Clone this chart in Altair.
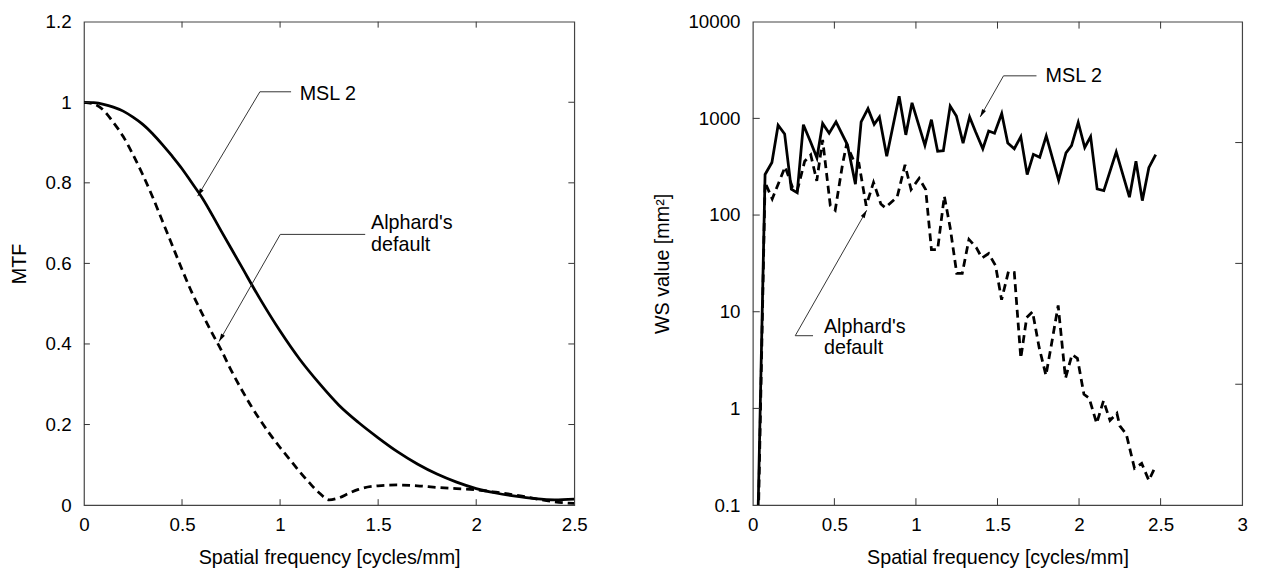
import math
import altair as alt
import pandas as pd

FONT = "Liberation Sans"
FS = 19
TFS = 20
ARROW = "M0,0 L-0.45,1.6 L0.45,1.6 Z"

# ---------------- Left panel: MTF ----------------
mtf_msl2_x = [0, 0.05, 0.1, 0.15, 0.2, 0.25, 0.3, 0.35, 0.4, 0.45, 0.5, 0.55, 0.6,
              0.7, 0.8, 0.9, 1.0, 1.1, 1.2, 1.3, 1.4, 1.5, 1.6, 1.7, 1.8, 1.9,
              2.0, 2.1, 2.2, 2.3, 2.4, 2.5]
mtf_msl2_y = [1.0, 0.999, 0.995, 0.988, 0.978, 0.963, 0.945, 0.922, 0.895, 0.866,
              0.835, 0.8, 0.765, 0.68, 0.595, 0.51, 0.432, 0.362, 0.302, 0.248,
              0.205, 0.167, 0.132, 0.102, 0.077, 0.057, 0.041, 0.030, 0.022,
              0.016, 0.013, 0.015]

mtf_alph_x = [0, 0.05, 0.1, 0.15, 0.2, 0.25, 0.3, 0.35, 0.4, 0.45, 0.5, 0.55, 0.6,
              0.65, 0.7, 0.75, 0.8, 0.85, 0.9, 0.95, 1.0, 1.05, 1.1, 1.15, 1.2,
              1.25, 1.3, 1.35, 1.4, 1.5, 1.6, 1.7, 1.8, 1.9, 2.0, 2.1, 2.2, 2.3,
              2.4, 2.5]
mtf_alph_y = [1.0, 0.996, 0.98, 0.95, 0.915, 0.87, 0.82, 0.765, 0.705, 0.645,
              0.585, 0.528, 0.478, 0.43, 0.385, 0.335, 0.29, 0.248, 0.21, 0.175,
              0.143, 0.113, 0.083, 0.055, 0.03, 0.013, 0.018, 0.029, 0.039, 0.048,
              0.05, 0.048, 0.044, 0.041, 0.038, 0.032, 0.025, 0.016, 0.008, 0.004]

left_x_ticks = [0, 0.5, 1, 1.5, 2, 2.5]
left_y_ticks = [0, 0.2, 0.4, 0.6, 0.8, 1, 1.2]

# annotations (data coordinates): corner, end of horizontal, arrow tip
left_ann_corner_x = [0.897, 1.001]
left_ann_corner_y = [1.026, 0.672]
left_ann_end_x = [1.056, 1.434]
left_ann_tip_x = [0.580, 0.689]
left_ann_tip_y = [0.767, 0.406]
left_ann_angle = [211, 210]
left_text = ["MSL 2", "Alphard's", "default"]
left_text_x = [1.10, 1.464, 1.464]
left_text_y = [1.021, 0.701, 0.645]

# ---------------- Right panel: WS value ----------------
ws_msl2_x = [0.0, 0.075, 0.117, 0.155, 0.195, 0.236, 0.272, 0.31, 0.353, 0.393,
             0.428, 0.468, 0.51, 0.58, 0.629, 0.664, 0.706, 0.744, 0.776, 0.821,
             0.897, 0.938, 0.976, 1.055, 1.095, 1.133, 1.168, 1.21, 1.248, 1.289,
             1.329, 1.365, 1.41, 1.446, 1.482, 1.526, 1.563, 1.603, 1.643, 1.682,
             1.72, 1.759, 1.799, 1.875, 1.92, 1.954, 1.995, 2.035, 2.071, 2.111,
             2.152, 2.228, 2.309, 2.349, 2.388, 2.428, 2.47]
ws_msl2_y = [0.0002, 263, 350, 850, 690, 185, 170, 860, 577, 391,
             887, 702, 920, 533, 209, 922, 1260, 867, 1035, 405,
             1695, 675, 1450, 525, 970, 456, 463, 1340, 1060, 555,
             1035, 730, 485, 741, 702, 1122, 555, 485, 648, 262,
             425, 396, 659, 229, 440, 524, 908, 500, 648, 186,
             179, 450, 153, 360, 141, 309, 422]

ws_alph_x = [0.0, 0.075, 0.119, 0.198, 0.244, 0.272, 0.318, 0.355, 0.392, 0.428,
             0.475, 0.505, 0.55, 0.575, 0.62, 0.65, 0.695, 0.74, 0.785, 0.812,
             0.885, 0.933, 0.97, 1.02, 1.06, 1.095, 1.133, 1.174, 1.21, 1.25,
             1.284, 1.325, 1.37, 1.405, 1.446, 1.488, 1.525, 1.567, 1.603, 1.643,
             1.679, 1.715, 1.755, 1.797, 1.83, 1.872, 1.917, 1.957, 1.99, 2.03,
             2.062, 2.108, 2.15, 2.19, 2.232, 2.25, 2.29, 2.34, 2.384, 2.428, 2.47]
ws_alph_y = [0.0001, 217, 147, 315, 192, 178, 360, 420, 226, 600,
             125, 112, 335, 540, 360, 345, 125, 218, 130, 119,
             154, 330, 184, 240, 183, 44, 44, 157, 74, 25,
             25, 56, 46, 36, 40, 30, 13.3, 26, 25.5, 3.3,
             8.7, 10, 4.3, 2.2, 4.5, 11.6, 2.05, 3.6, 3.3, 1.4,
             1.28, 0.70, 1.2, 0.75, 0.89, 0.66, 0.54, 0.24, 0.27, 0.18, 0.255]

right_x_ticks = [0, 0.5, 1, 1.5, 2, 2.5, 3]
right_y_ticks = [0.1, 1, 10, 100, 1000, 10000]
right_secondary_fractions = [0.25, 0.5, 0.75]

right_ann_corner_x = [1.537, 0.260]
right_ann_corner_y = [2754, 5.65]
right_ann_end_x = [1.739, 0.369]
right_ann_tip_x = [1.394, 0.698]
right_ann_tip_y = [1036, 112]
right_ann_angle = [209, 30]
right_text = ["MSL 2", "Alphard's", "default"]
right_text_x = [1.795, 0.436, 0.436]
right_text_y = [2710, 6.97, 4.16]


def panel(xdom, ydom, ylog, xticks, yticks, ytitle, series, ann, texts,
          w, h, tick_len, right_side_ticks, interp):
    yscale = alt.Scale(type="log", domain=ydom, nice=False) if ylog else \
        alt.Scale(domain=ydom, nice=False)
    xscale = alt.Scale(domain=xdom, nice=False)
    xaxis = alt.Axis(values=xticks, format="~g", title="Spatial frequency [cycles/mm]")
    yaxis = alt.Axis(values=yticks, format="~g", title=ytitle)
    X = alt.X("x:Q", scale=xscale, axis=xaxis)
    Y = alt.Y("y:Q", scale=yscale, axis=yaxis)

    layers = []
    for xs_, ys_, dashed in series:
        df = pd.DataFrame({"x": xs_, "y": ys_})
        kw = dict(color="black", strokeWidth=2.8, clip=True, strokeJoin="miter",
                  interpolate=interp)
        if dashed:
            kw["strokeDash"] = [8, 5]
        layers.append(alt.Chart(df).mark_line(**kw).encode(x=X, y=Y))

    cx, cy, ex, tx, ty, ang = ann
    seg = pd.DataFrame({
        "x": cx + cx, "y": cy + cy,
        "x2": ex + tx, "y2": cy + ty,
    })
    layers.append(alt.Chart(seg).mark_rule(color="#333333", strokeWidth=1).encode(
        x=X, y=Y, x2="x2:Q", y2="y2:Q"))
    heads = pd.DataFrame({"x": tx, "y": ty, "a": ang})
    layers.append(alt.Chart(heads).mark_point(shape=ARROW, filled=True, size=100,
                                               color="black", opacity=1).encode(
        x=X, y=Y, angle=alt.Angle("a:Q", scale=None)))
    tt, txx, tyy = texts
    tdf = pd.DataFrame({"x": txx, "y": tyy, "t": tt})
    layers.append(alt.Chart(tdf).mark_text(font=FONT, fontSize=TFS, align="left",
                                            baseline="middle", color="black").encode(
        x=X, y=Y, text="t:N"))

    # inward tick marks on all four sides
    inner_x = [v for v in xticks if v not in (xdom[0], xdom[1])]
    inner_y = [v for v in yticks if v not in (ydom[0], ydom[1])]
    dx = pd.DataFrame({"x": inner_x})
    dy = pd.DataFrame({"y": inner_y})
    tick_style = dict(color="#333333", strokeWidth=1)
    layers.append(alt.Chart(dx).mark_rule(**tick_style).encode(
        x=X, y=alt.value(h), y2=alt.value(h - tick_len)))
    layers.append(alt.Chart(dx).mark_rule(**tick_style).encode(
        x=X, y=alt.value(0), y2=alt.value(tick_len)))
    layers.append(alt.Chart(dy).mark_rule(**tick_style).encode(
        y=Y, x=alt.value(0), x2=alt.value(tick_len)))
    dr = pd.DataFrame({"y": right_side_ticks})
    layers.append(alt.Chart(dr).mark_rule(**tick_style).encode(
        y=Y, x=alt.value(w), x2=alt.value(w - tick_len)))

    return alt.layer(*layers).properties(width=w, height=h)


left = panel(
    [0, 2.5], [0, 1.2], False, left_x_ticks, left_y_ticks, "MTF",
    [(mtf_msl2_x, mtf_msl2_y, False), (mtf_alph_x, mtf_alph_y, True)],
    (left_ann_corner_x, left_ann_corner_y, left_ann_end_x, left_ann_tip_x,
     left_ann_tip_y, left_ann_angle),
    (left_text, left_text_x, left_text_y),
    497, 490, 6, [v for v in left_y_ticks if v not in (0, 1.2)], "monotone",
)

lo, hi = math.log10(right_y_ticks[0]), math.log10(right_y_ticks[-1])
secondary = [10 ** (lo + f * (hi - lo)) for f in right_secondary_fractions]

right = panel(
    [0, 3], [0.1, 10000], True, right_x_ticks, right_y_ticks, "WS value [mm²]",
    [(ws_msl2_x, ws_msl2_y, False), (ws_alph_x, ws_alph_y, True)],
    (right_ann_corner_x, right_ann_corner_y, right_ann_end_x, right_ann_tip_x,
     right_ann_tip_y, right_ann_angle),
    (right_text, right_text_x, right_text_y),
    496, 490, 7, secondary, "linear",
)

chart = alt.hconcat(left, right, spacing=64).properties(
    padding={"left": 0, "top": 0, "right": 5, "bottom": 5}
).configure_axis(
    labelFont=FONT, labelFontSize=FS, titleFont=FONT, titleFontSize=TFS,
    titleFontWeight="normal", labelColor="black", titleColor="black",
    ticks=False, domain=False, grid=False, labelFlush=False,
).configure_axisX(labelPadding=11, titlePadding=13).configure_axisY(
    labelPadding=13, titlePadding=16
).configure_view(stroke="#444444", strokeWidth=1.2)

chart.save("out.html", embed_options={"renderer": "svg", "actions": False})
